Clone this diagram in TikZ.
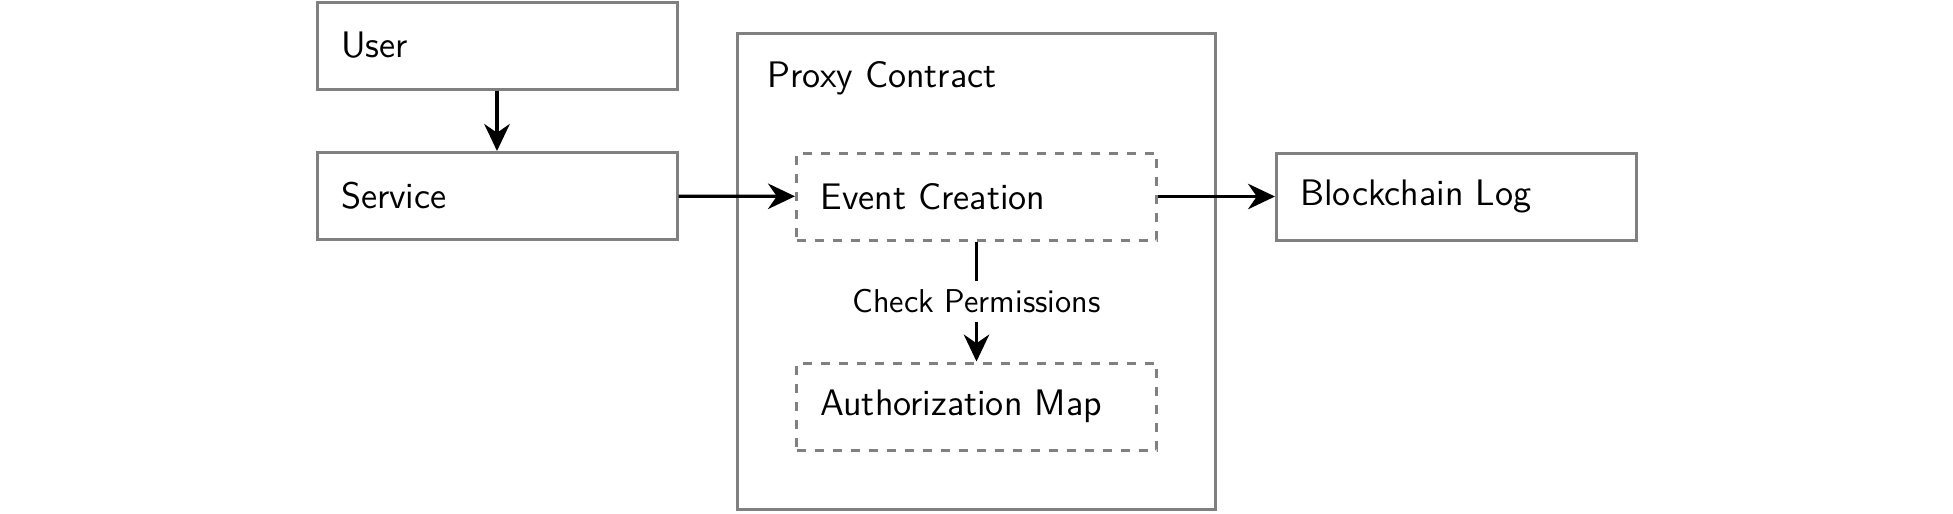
\documentclass[tikz,border=0pt]{standalone}
\usetikzlibrary{arrows.meta}
\begin{document}
\begin{tikzpicture}[x=0.33333pt,y=-0.33333pt,
  box/.style={draw=gray, line width=1pt, rectangle, minimum width=120pt, minimum height=29pt,
    inner xsep=8pt, text width=104pt, align=left, font=\sffamily\fontsize{12.3}{14}\selectfont},
  dbox/.style={box, dashed},
  outer/.style={draw=gray, line width=1pt, rectangle, minimum width=159.3pt, minimum height=158.7pt},
  arr/.style={line width=1.1pt, -{Stealth[length=9pt,width=8.5pt]}},
  lbl/.style={fill=white, font=\sffamily\fontsize{11}{13}\selectfont, inner sep=3pt}]
\useasboundingbox (0,0) rectangle (1953,513);
\node[outer] (proxy) at (976.5,271.5) {};
\node[anchor=base west, inner sep=0pt, font=\sffamily\fontsize{12.3}{14}\selectfont] (proxylbl) at (767,87) {Proxy Contract};
\node[box] (user) at (497,45.5) {User};
\node[box] (service) at (497,196) {Service};
\node[dbox] (event) at (976.5,196.5) {Event Creation};
\node[dbox] (auth) at (976.5,406.5) {Authorization Map};
\node[box] (block) at (1456.5,196.5) {Blockchain Log};
\draw[arr] (user) -- (service);
\draw[arr] (service) -- (event);
\draw[arr] (event) -- (block);
\draw[arr] (event) -- node[lbl] (perm) {Check Permissions} (auth);
\end{tikzpicture}
\end{document}
